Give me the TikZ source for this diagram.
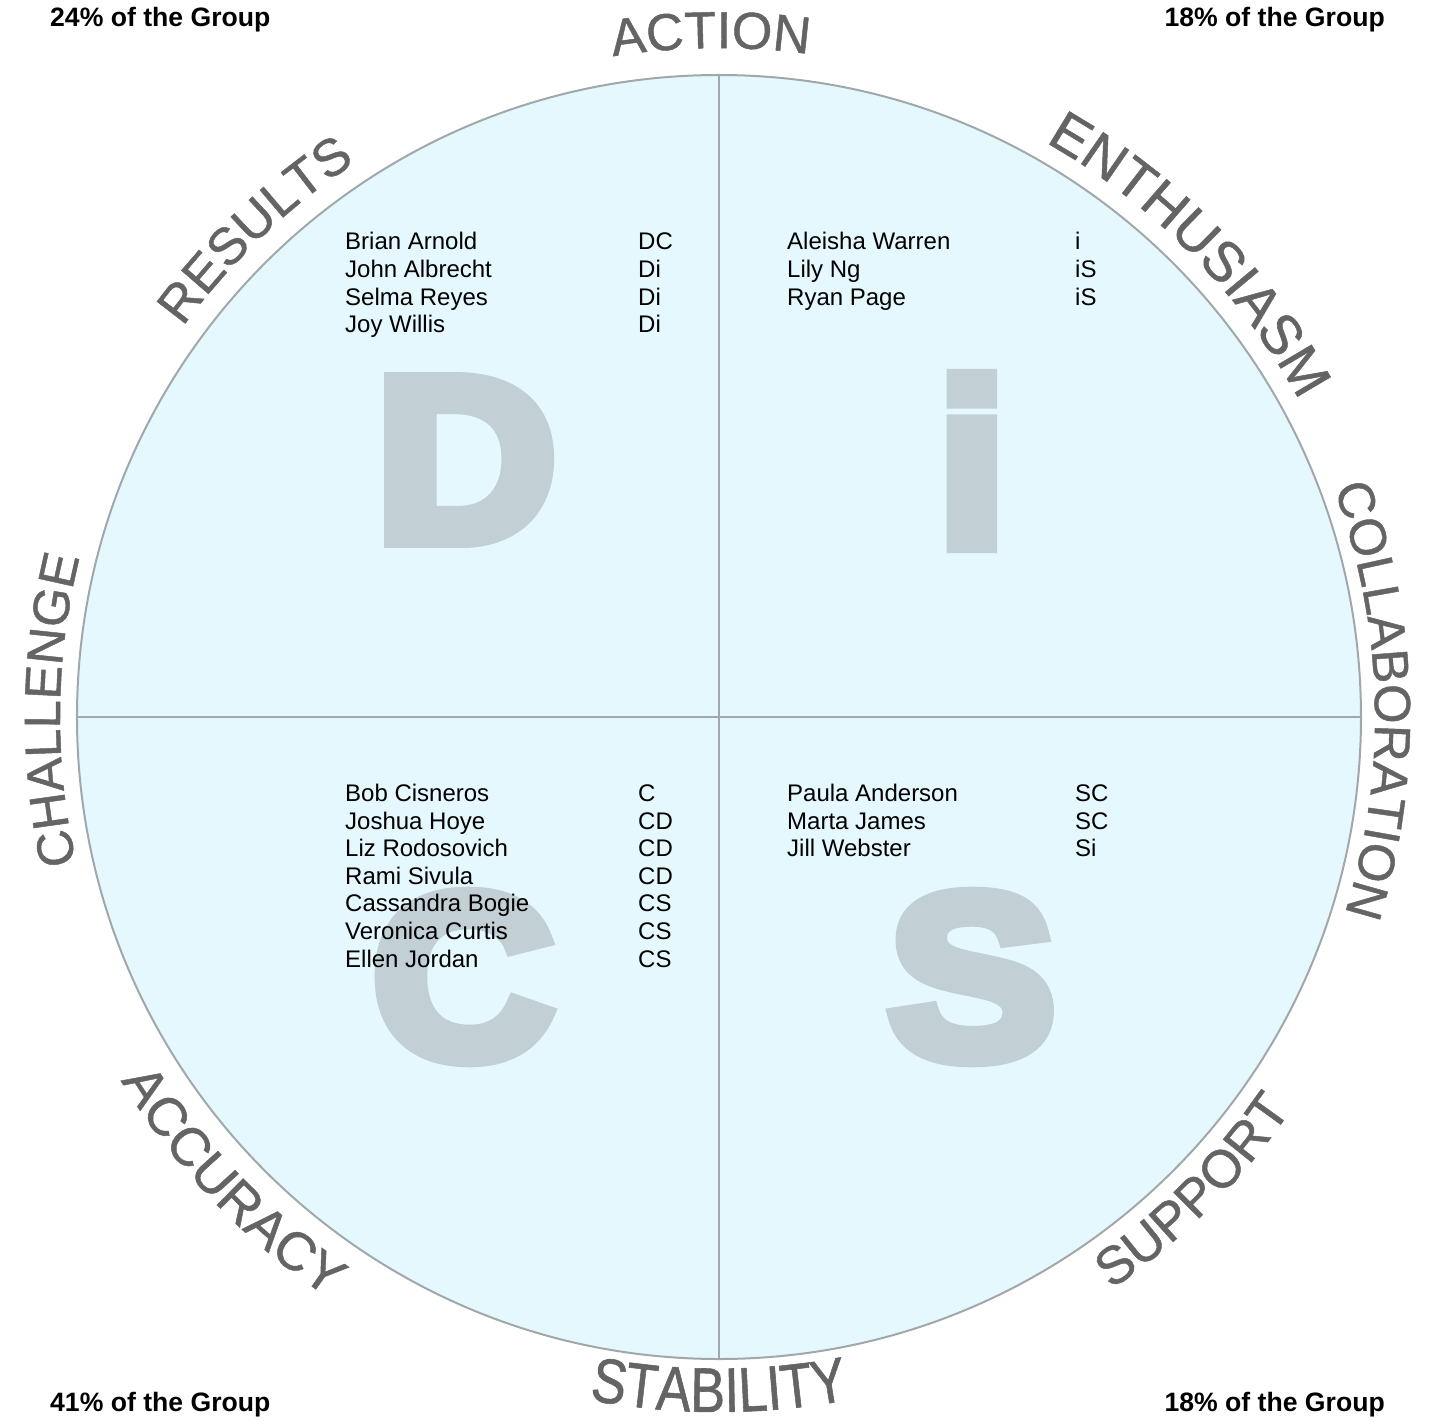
\documentclass[tikz,border=0pt]{standalone}
\usepackage{fontspec}
\setmainfont{Liberation Sans}
\newfontfamily\arcfont{Liberation Sans}[FakeBold=0.9]
\newfontfamily\tallfont{Liberation Sans}[FakeStretch=0.83,FakeBold=0.9]
\newfontfamily\discfont{Liberation Sans Bold}[FakeBold=7,FakeStretch=1.08]
\usetikzlibrary{decorations.text}

\definecolor{discfill}{RGB}{229,248,253}
\definecolor{discline}{RGB}{160,168,172}
\definecolor{letterfill}{RGB}{194,207,213}
\definecolor{arcgray}{RGB}{100,100,100}

\tikzset{
  arc word/.style={decorate,decoration={text along path,text align=center,text color=arcgray}},
  member/.style={anchor=base west,inner sep=0pt,font=\fontsize{24}{24}\selectfont},
  big letter/.style={inner sep=0pt,text=letterfill,font=\discfont\fontsize{232}{232}\selectfont},
  share/.style={inner sep=0pt,font=\bfseries\fontsize{26.6}{26.6}\selectfont}
}

\begin{document}
\begin{tikzpicture}[x=1pt,y=1pt]
\useasboundingbox (-719,-708) rectangle (721,717);
% disc and its four quarters
\fill[discfill] (0,0) circle[radius=642pt];
\coordinate (top) at (90:642);
\coordinate (bottom) at (270:642);
\coordinate (left) at (180:642);
\coordinate (right) at (0:642);
\node[big letter] (bigD) at (-253,257) {D};
\node[big letter] (bigI) at (253,256) {i};
\node[big letter] (bigC) at (-256,-260) {C};
\node[big letter] (bigS) at (253,-260) {S};
\draw[discline,line width=2pt] (top)--(bottom);
\draw[discline,line width=1.5pt] (left)--(right);
\draw[discline,line width=2pt] (0,0) circle[radius=642pt];
% members of each style
\foreach \nm/\cd [count=\k] in {Brian Arnold/DC,John Albrecht/Di,Selma Reyes/Di,Joy Willis/Di}{
  \node[member] (dname\k) at (-374,{467-27.6*(\k-1)}) {\nm};
  \node[member] (dcode\k) at (-81,{467-27.6*(\k-1)}) {\cd};
}
\foreach \nm/\cd [count=\k] in {Aleisha Warren/i,Lily Ng/iS,Ryan Page/iS}{
  \node[member] (iname\k) at (68,{467-27.6*(\k-1)}) {\nm};
  \node[member] (icode\k) at (356,{467-27.6*(\k-1)}) {\cd};
}
\foreach \nm/\cd [count=\k] in {Bob Cisneros/C,Joshua Hoye/CD,Liz Rodosovich/CD,Rami Sivula/CD,Cassandra Bogie/CS,Veronica Curtis/CS,Ellen Jordan/CS}{
  \node[member] (cname\k) at (-374,{-84.5-27.6*(\k-1)}) {\nm};
  \node[member] (ccode\k) at (-81,{-84.5-27.6*(\k-1)}) {\cd};
}
\foreach \nm/\cd [count=\k] in {Paula Anderson/SC,Marta James/SC,Jill Webster/Si}{
  \node[member] (sname\k) at (68,{-84.5-27.6*(\k-1)}) {\nm};
  \node[member] (scode\k) at (356,{-84.5-27.6*(\k-1)}) {\cd};
}
% shares in the corners
\node[share,anchor=base west] (shareD) at (-669,690) {24\% of the Group};
\node[share,anchor=base east] (shareI) at (666,690) {18\% of the Group};
\node[share,anchor=base west] (shareC) at (-669,-694) {41\% of the Group};
\node[share,anchor=base east] (shareS) at (666,-694) {18\% of the Group};
% words round the rim
\path[arc word,decoration={text={|\arcfont\fontsize{52}{52}\selectfont|ACTION}}] (120.7:669) arc[start angle=120.7,end angle=60.7,radius=669pt];
\path[arc word,decoration={text={|\arcfont\fontsize{56}{56}\selectfont|ENTHUSIASM}}] (74.5:661) arc[start angle=74.5,end angle=14.5,radius=661pt];
\path[arc word,decoration={text={|\arcfont\fontsize{51}{51}\selectfont|COLLABORATION}}] (31.5:656) arc[start angle=31.5,end angle=-28.5,radius=656pt];
\path[arc word,decoration={text={|\arcfont\fontsize{53}{53}\selectfont|SUPPORT}}] (-75:694) arc[start angle=-75,end angle=-15,radius=694pt];
\path[arc word,decoration={text={|\tallfont\fontsize{63}{63}\selectfont|STABILITY}}] (-120:695) arc[start angle=-120,end angle=-60,radius=695pt];
\path[arc word,decoration={text={|\arcfont\fontsize{54}{54}\selectfont|ACCURACY}}] (193.7:700) arc[start angle=193.7,end angle=253.7,radius=700pt];
\path[arc word,decoration={text={|\arcfont\fontsize{51}{51}\selectfont|CHALLENGE}}] (209.4:659) arc[start angle=209.4,end angle=149.4,radius=659pt];
\path[arc word,decoration={text={|\arcfont\fontsize{52}{52}\selectfont|RESULTS}}] (163.6:663) arc[start angle=163.6,end angle=103.6,radius=663pt];
\end{tikzpicture}
\end{document}
